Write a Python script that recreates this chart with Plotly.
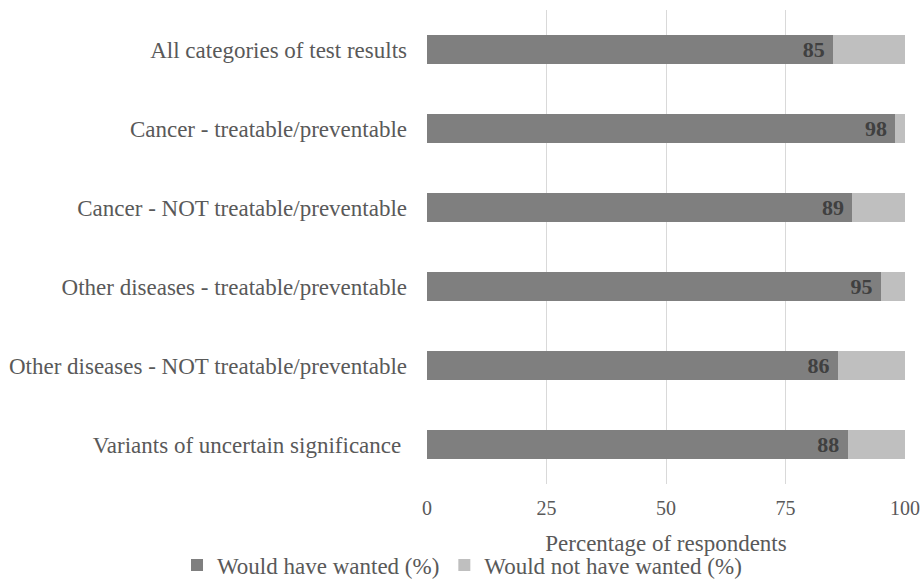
import plotly.graph_objects as go

categories = [
    "All categories of test results",
    "Cancer - treatable/preventable",
    "Cancer - NOT treatable/preventable",
    "Other diseases - treatable/preventable",
    "Other diseases - NOT treatable/preventable",
    "Variants of uncertain significance\u00a0",
]
wanted = [85, 98, 89, 95, 86, 88]
not_wanted = [15, 2, 11, 5, 14, 12]
x_ticks = [0, 25, 50, 75, 100]

FONT = "Liberation Serif, Times New Roman, serif"
TEXT = "#595959"

fig = go.Figure()
fig.add_trace(go.Bar(
    y=categories, x=wanted, orientation="h",
    name="Would have wanted (%)",
    marker=dict(color="#7f7f7f", line=dict(width=0)),
    texttemplate="%{x}\u00a0",
    textposition="inside", insidetextanchor="end", textangle=0,
    constraintext="none",
    textfont=dict(family=FONT, size=22, color="#404040", weight="bold"),
    width=0.36,
))
fig.add_trace(go.Bar(
    y=categories, x=not_wanted, orientation="h",
    name="Would not have wanted (%)",
    marker=dict(color="#bfbfbf", line=dict(width=0)),
    width=0.36,
))

fig.update_layout(
    barmode="stack",
    width=921, height=581,
    margin=dict(l=427, r=16, t=10, b=97, autoexpand=False),
    paper_bgcolor="white", plot_bgcolor="white",
    font=dict(family=FONT, color=TEXT, size=23),
    showlegend=True,
    # legend sits left-anchored in the bottom margin so it can span the page width
    legend=dict(orientation="h", x=-0.523, xanchor="left", xref="paper",
                y=-0.171, yanchor="middle", yref="paper",
                font=dict(size=23, color=TEXT), traceorder="normal",
                itemwidth=30, tracegroupgap=0),
    xaxis=dict(range=[0, 100], tickvals=x_ticks, showgrid=True, gridcolor="#d9d9d9",
               gridwidth=1, zeroline=False, showline=False, ticks="",
               ticklabelstandoff=10,
               tickfont=dict(size=20, color=TEXT),
               title=dict(text="Percentage of respondents\u00a0\u00a0\u00a0",
                          font=dict(size=23, color=TEXT), standoff=16)),
    yaxis=dict(categoryorder="array", categoryarray=categories[::-1], showgrid=False,
               zeroline=False, showline=False, ticks="", ticklabelstandoff=19,
               tickfont=dict(size=23, color=TEXT)),
)

fig.write_html("out.html")
